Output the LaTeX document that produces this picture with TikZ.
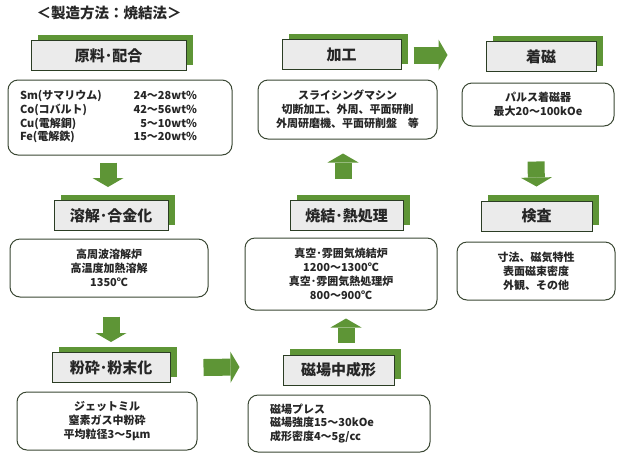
\documentclass[tikz,border=0pt]{standalone}
\usepackage{fontspec}
\setmainfont{Noto Sans CJK JP}
\usetikzlibrary{arrows.meta,calc,shadows}

\definecolor{stepgreen}{HTML}{5E9536}
\definecolor{boxgray}{HTML}{EBEBEB}
\definecolor{boxline}{HTML}{2B3D24}
\definecolor{infoline}{HTML}{3A4733}
\definecolor{inktext}{HTML}{262626}

\tikzset{
  stepbox/.style={draw=boxline, line width=1pt, fill=boxgray, minimum height=30pt, inner sep=0pt,
    text=inktext, font=\fontsize{15}{18}\selectfont\bfseries,
    general shadow={fill=stepgreen, shadow xshift=7pt, shadow yshift=6pt}},
  infobox/.style={draw=infoline, line width=1pt, rounded corners=10pt, fill=white, inner sep=0pt,
    align=center, text=inktext, font=\fontsize{11}{13.8}\selectfont\bfseries},
  bigarrow/.style={draw=stepgreen, line width=17pt, -{Triangle[length=9pt, width=31pt, line width=0pt]}}
}

\begin{document}
\begin{tikzpicture}[x=1pt, y=-1pt]
        \useasboundingbox (0,0) rectangle (623,456);

        % Title of the chart
        \node[text=inktext, font=\fontsize{14.5}{17}\selectfont\bfseries] (title) at (109,13.5) {＜製造方法：焼結法＞};

        % Left column: raw material, melting, milling
        \node[stepbox, minimum width=155pt] (raw) at (108.5,55.5) {原料･配合};
        \node[infobox, minimum width=224pt, minimum height=75pt, text width=200pt, inner xsep=12pt, align=left] (rawinfo) at (120,117.5) {%
          \begin{tabular*}{177pt}{@{}l@{\extracolsep{\fill}}r@{}}
            Sm(サマリウム) & 24～28wt\% \\
            Co(コバルト) & 42～56wt\% \\
            Cu(電解銅) & 5～10wt\% \\
            Fe(電解鉄) & 15～20wt\%
          \end{tabular*}};

        \node[stepbox, minimum width=114pt] (melt) at (111,215.5) {溶解･合金化};
        \node[infobox, minimum width=198pt, minimum height=58pt] (meltinfo) at (109,268) {高周波溶解炉\\高温度加熱溶解\\1350℃};

        \node[stepbox, minimum width=118pt] (mill) at (111,367.5) {粉砕･粉末化};
        \node[infobox, minimum width=180pt, minimum height=58pt] (millinfo) at (107,421) {ジェットミル\\窒素ガス中粉砕\\平均粒径3～5μm};

        % Middle column: pressing, sintering, machining
        \node[stepbox, minimum width=111pt] (press) at (338.5,370) {磁場中成形};
        \node[infobox, minimum width=182pt, minimum height=57pt, text width=138pt, inner xsep=22pt, align=left] (pressinfo) at (339,423.5) {磁場プレス\\磁場強度15～30kOe\\成形密度4～5g/cc};

        \node[stepbox, minimum width=113pt] (sinter) at (346.5,215.5) {焼結･熱処理};
        \node[infobox, minimum width=192pt, minimum height=72pt] (sinterinfo) at (341,274) {真空･雰囲気焼結炉\\1200～1300℃\\真空･雰囲気熱処理炉\\800～900℃};

        \node[stepbox, minimum width=119pt] (machine) at (341.5,54.5) {加工};
        \node[infobox, minimum width=179pt, minimum height=59pt] (machineinfo) at (347.5,109.5) {スライシングマシン\\切断加工、外周、平面研削\\外周研磨機、平面研削盤\quad 等};

        % Right column: magnetizing, inspection
        \node[stepbox, minimum width=110pt] (magnet) at (541,56.5) {着磁};
        \node[infobox, minimum width=152pt, minimum height=43pt] (magnetinfo) at (538,104.5) {パルス着磁器\\最大20～100kOe};

        \node[stepbox, minimum width=111pt] (check) at (536.5,216) {検査};
        \node[infobox, minimum width=158pt, minimum height=58pt] (checkinfo) at (536,271) {寸法、磁気特性\\表面磁束密度\\外観、その他};

        % Big green arrows between the steps
        \draw[bigarrow] ($(rawinfo.south)+(-12,7)$) -- ($(melt.north)+(-3,-13)$);
        \draw[bigarrow] ($(meltinfo.south)+(2,19)$) -- ($(mill.north)+(0,-10)$);
        \draw[bigarrow] ($(mill.east)+(33,0)$) -- ($(press.west)+(-43,-3)$);
        \draw[bigarrow] ($(press.north)+(7.5,-12)$) -- ($(sinterinfo.south)+(5,8)$);
        \draw[bigarrow] ($(sinter.north)+(-3.5,-21)$) -- ($(machineinfo.south)+(-4.5,14)$);
        \draw[bigarrow] ($(machine.east)+(12,0.5)$) -- ($(magnet.west)+(-38,-1.5)$);
        \draw[bigarrow] ($(magnetinfo.south)+(-2,35)$) -- ($(check.north)+(0,-14)$);

    \end{tikzpicture}
\end{document}
